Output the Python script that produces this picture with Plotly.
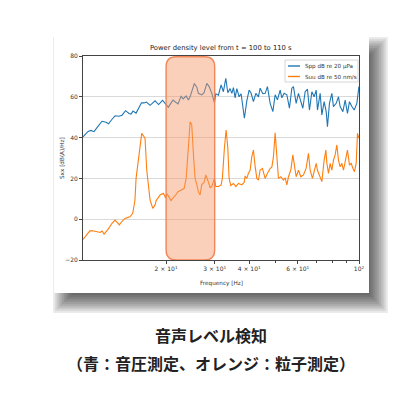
import math
import plotly.graph_objects as go

# ---------------- data ----------------
blue_freq = [10.00, 10.43, 10.69, 10.96, 11.33, 11.72, 12.12, 12.37, 12.74, 13.07,
             13.50, 13.85, 14.26, 14.68, 14.93, 15.18, 15.57, 15.96, 16.29, 16.64,
             16.99, 17.50, 17.86, 18.24, 18.79, 19.42, 19.91, 20.38, 20.85, 21.20,
             21.56, 22.10, 22.66, 23.05, 23.64, 24.09, 24.43, 24.77, 25.32, 25.84,
             26.18, 26.93, 27.46, 28.09, 28.64, 29.29, 29.93, 30.28, 30.95, 31.65,
             32.26, 32.91, 33.47, 34.11, 34.61, 35.08, 35.58, 36.08, 36.79, 37.40,
             38.44, 39.22, 39.98, 40.66, 41.44, 42.29, 43.22, 43.83, 44.83, 45.70,
             46.59, 47.65, 48.74, 49.68, 50.64, 51.80, 52.53, 53.56, 54.77, 55.97,
             57.10, 57.87, 59.20, 60.34, 61.20, 62.60, 63.81, 65.05, 66.14, 67.48,
             68.79, 69.96, 70.72, 72.32, 73.35, 74.78, 76.04, 76.87, 78.16, 79.73,
             80.81, 82.66, 84.26, 85.46, 87.41, 89.10, 90.83, 92.36, 94.22, 96.06,
             98.24, 99.90]
blue_db = [40.4, 43.0, 43.5, 42.9, 45.5, 48.0, 47.5, 46.8, 49.0, 50.7,
           50.5, 51.0, 53.2, 51.8, 51.5, 53.0, 52.0, 55.0, 57.1, 57.0,
           57.4, 55.8, 57.0, 58.0, 56.2, 58.3, 56.5, 54.8, 57.0, 58.4,
           57.6, 56.5, 60.2, 59.0, 60.4, 58.4, 60.0, 63.0, 66.5, 64.7,
           61.7, 60.9, 62.0, 66.6, 65.0, 61.7, 57.1, 61.5, 60.8, 65.8,
           62.5, 69.1, 62.0, 64.0, 61.7, 64.5, 59.5, 64.0, 60.0, 61.5,
           49.5, 58.0, 63.3, 61.7, 57.6, 61.7, 60.0, 64.2, 61.5, 61.7,
           65.0, 56.8, 52.7, 61.0, 58.5, 63.3, 59.5, 61.7, 61.0, 54.4,
           64.2, 65.0, 56.8, 61.7, 58.5, 54.4, 62.5, 63.7, 53.5, 62.5,
           60.0, 63.3, 53.5, 61.7, 51.1, 57.6, 52.7, 45.4, 56.8, 61.7,
           55.2, 56.8, 60.0, 55.2, 52.7, 58.4, 51.9, 57.6, 55.2, 53.5,
           56.8, 65.0]

orange_freq = [10.00, 10.25, 10.61, 10.96, 11.25, 11.53, 11.72, 11.92, 12.32, 12.74,
               13.07, 13.54, 13.85, 14.20, 14.56, 14.80, 15.14, 15.43, 15.57, 15.87,
               16.10, 16.32, 16.54, 16.78, 17.02, 17.28, 17.50, 17.90, 18.24, 18.40,
               19.02, 19.55, 19.91, 20.16, 20.50, 20.85, 21.20, 21.56, 22.10, 22.80,
               23.24, 23.64, 23.97, 24.23, 24.43, 24.77, 25.11, 25.47, 25.84, 26.18,
               26.56, 26.93, 27.46, 27.86, 28.33, 28.88, 29.29, 29.93, 30.28, 30.95,
               31.65, 31.99, 32.53, 33.00, 33.47, 33.83, 34.32, 35.08, 35.79, 36.57,
               37.62, 38.35, 38.67, 39.22, 39.75, 40.32, 40.89, 41.44, 42.03, 42.64,
               43.22, 43.83, 44.68, 45.32, 45.70, 46.59, 47.65, 48.33, 48.98, 49.68,
               50.38, 51.07, 52.10, 53.24, 54.00, 54.77, 55.51, 56.63, 57.59, 58.36,
               59.20, 60.34, 61.56, 62.92, 64.35, 65.59, 66.53, 67.82, 68.96, 69.96,
               70.72, 72.32, 73.35, 74.78, 75.85, 76.48, 77.51, 78.62, 79.73, 80.81,
               81.96, 83.13, 84.26, 85.46, 86.67, 87.85, 89.10, 90.83, 92.36, 93.69,
               95.02, 96.31, 97.68, 98.74, 99.90]
orange_db = [-9.9, -8.0, -5.6, -5.8, -6.0, -6.5, -5.8, -7.3, -5.0, -2.0,
             -0.4, -2.8, -1.0, 0.4, 0.9, 1.2, 2.9, 9.4, 20.0, 29.0,
             38.0, 42.1, 41.0, 39.6, 24.1, 14.0, 9.4, 5.3, 7.0, 9.0,
             11.9, 12.7, 10.5, 12.5, 11.0, 9.1, 10.5, 11.5, 13.5, 14.7,
             15.0, 20.0, 29.0, 40.0, 47.8, 46.5, 32.3, 20.0, 17.0, 13.5,
             11.9, 17.0, 18.0, 21.7, 19.0, 15.5, 16.0, 20.0, 16.0, 16.0,
             16.8, 20.0, 34.8, 43.7, 35.0, 20.0, 16.5, 17.5, 16.0, 17.5,
             16.8, 18.0, 21.2, 20.0, 22.5, 24.0, 30.7, 33.9, 26.0, 20.0,
             19.2, 24.1, 24.9, 22.0, 20.0, 22.5, 24.9, 25.5, 30.7, 42.4,
             29.0, 20.0, 20.8, 19.2, 20.3, 16.8, 20.8, 24.1, 31.5, 25.0,
             20.8, 24.0, 20.8, 21.7, 25.0, 32.3, 24.0, 20.0, 23.3, 27.4,
             24.0, 20.8, 18.4, 29.0, 33.9, 27.4, 22.5, 27.4, 24.0, 29.0,
             31.5, 36.4, 29.0, 25.7, 27.4, 24.0, 29.0, 33.9, 26.5, 27.4,
             25.0, 23.3, 27.4, 42.1, 39.6]

series_names = ["Spp dB re 20 μPa", "Suu dB re 50 nm/s"]
x_tick_vals = [20, 30, 40, 60, 100]
x_tick_text = ["2 × 10<sup>1</sup>", "3 × 10<sup>1</sup>", "4 × 10<sup>1</sup>",
               "6 × 10<sup>1</sup>", "10<sup>2</sup>"]
x_minor_vals = [50, 70, 80, 90]
y_tick_vals = [-20, 0, 20, 40, 60, 80]
x_range_hz = [10, 100]
y_range = [-20, 80]
band_hz = [20, 30]          # highlighted band
title_text = "Power density level from t = 100 to 110 s"
x_title = "Frequency [Hz]"
y_title = "Sxx [dB(A)/Hz]"
caption1 = "音声レベル検知"
caption2 = "（青：音圧測定、オレンジ：粒子測定）"

# ---------------- layout helpers ----------------
OFF = 8                       # default page body margin
W, H = 420 - OFF, 398 - OFF   # figure size so the page fits the window
# plot area in page pixels
PPL, PPR, PPT, PPB = 83, 359, 56, 260
PL, PR, PT, PB = PPL - OFF, PPR - OFF, PPT - OFF, PPB - OFF
BLUE, ORANGE = "#1f77b4", "#ff7f0e"
FONT = "DejaVu Sans"


def fx(px):  # page pixel -> paper x
    return (px - PPL) / (PPR - PPL)


def fy(py):  # page pixel -> paper y
    return (PPB - py) / (PPB - PPT)


fig = go.Figure()
fig.add_trace(go.Scatter(x=blue_freq, y=blue_db, mode="lines", name=series_names[0],
                         line=dict(color=BLUE, width=1.1), showlegend=False))
fig.add_trace(go.Scatter(x=orange_freq, y=orange_db, mode="lines", name=series_names[1],
                         line=dict(color=ORANGE, width=1.1), showlegend=False))

shapes = []
# card shadow (stacked translucent rectangles = soft blur)
cx0, cy0, cx1, cy1 = 54, 37, 369, 293
dx, dy, blur, n = 9, 10, 10, 12
for i in range(n):
    e = blur - 2 * blur * i / (n - 1)
    shapes.append(dict(type="rect", xref="paper", yref="paper", layer="below",
                       x0=fx(cx0 + dx - e), x1=fx(cx1 + dx + e),
                       y0=fy(cy1 + dy + e), y1=fy(cy0 + dy - e),
                       fillcolor="rgba(0,0,0,0.075)", line=dict(width=0)))
# white card
shapes.append(dict(type="rect", xref="paper", yref="paper", layer="below",
                   x0=fx(cx0), x1=fx(cx1), y0=fy(cy1), y1=fy(cy0),
                   fillcolor="white", line=dict(width=0)))

# rounded highlight band (x in axis-domain fractions from the log scale)
lx0, lx1 = math.log10(x_range_hz[0]), math.log10(x_range_hz[1])
bx0 = (math.log10(band_hz[0]) - lx0) / (lx1 - lx0)
bx1 = (math.log10(band_hz[1]) - lx0) / (lx1 - lx0)
by0, by1 = y_range[0], 79.6
rx = 10 / (PR - PL)
ry = 10 * (y_range[1] - y_range[0]) / (PB - PT)
path = (f"M {bx0 + rx},{by1} L {bx1 - rx},{by1} Q {bx1},{by1} {bx1},{by1 - ry} "
        f"L {bx1},{by0 + ry} Q {bx1},{by0} {bx1 - rx},{by0} "
        f"L {bx0 + rx},{by0} Q {bx0},{by0} {bx0},{by0 + ry} "
        f"L {bx0},{by1 - ry} Q {bx0},{by1} {bx0 + rx},{by1} Z")
shapes.append(dict(type="path", xref="x domain", yref="y", path=path, layer="above",
                   fillcolor="rgba(247,150,105,0.45)",
                   line=dict(color="rgba(240,130,80,0.95)", width=1.4)))

# legend box
shapes.append(dict(type="rect", xref="paper", yref="paper", layer="above",
                   x0=fx(285), x1=fx(358), y0=fy(82), y1=fy(60),
                   fillcolor="rgba(255,255,255,0.85)", line=dict(color="#cccccc", width=0.8)))
for yy, col in [(66, BLUE), (76.5, ORANGE)]:
    shapes.append(dict(type="line", xref="paper", yref="paper", layer="above",
                       x0=fx(288), x1=fx(300), y0=fy(yy), y1=fy(yy),
                       line=dict(color=col, width=1.4)))


def ann(text, x, y, size, color="#333", family=FONT, xanchor="center", **kw):
    return dict(text=text, x=fx(x), y=fy(y), xref="paper", yref="paper",
                xanchor=xanchor, yanchor="middle", showarrow=False,
                font=dict(family=family, size=size, color=color), **kw)


annotations = [
    ann(title_text, 221, 48, 6.8, "#222"),
    ann(x_title, 221, 283, 5.7),
    ann(y_title, 62, 158, 5.7, textangle=-90),
    ann(series_names[0], 302.5, 66, 5.6, xanchor="left"),
    ann(series_names[1], 302.5, 76.5, 5.6, xanchor="left"),
    ann(f"<b>{caption1}</b>", 211, 335, 16, "#222", "Noto Sans CJK JP"),
    ann(f"<b>{caption2}</b>", 211, 363, 16, "#222", "Noto Sans CJK JP"),
]

fig.update_layout(
    width=W, height=H,
    margin=dict(l=PL, r=W - PR, t=PT, b=H - PB, pad=0),
    paper_bgcolor="white", plot_bgcolor="rgba(0,0,0,0)",
    shapes=shapes, annotations=annotations, showlegend=False,
    xaxis=dict(type="log", range=[lx0, lx1], showgrid=False, zeroline=False,
               showline=True, mirror=True, linecolor="#444", linewidth=0.9,
               ticks="outside", ticklen=3, tickwidth=0.8, tickcolor="#444",
               tickvals=x_tick_vals, ticktext=x_tick_text,
               tickfont=dict(family=FONT, size=6, color="#333"),
               minor=dict(tickvals=x_minor_vals, ticks="outside", ticklen=2,
                          tickwidth=0.6, tickcolor="#444", showgrid=False)),
    yaxis=dict(range=y_range, tickvals=y_tick_vals, showgrid=True,
               gridcolor="#d9d9d9", gridwidth=1, zeroline=False,
               showline=True, mirror=True, linecolor="#444", linewidth=0.9,
               ticks="outside", ticklen=3, tickwidth=0.8, tickcolor="#444",
               tickfont=dict(family=FONT, size=6, color="#333")),
)

fig.write_html("out.html")
